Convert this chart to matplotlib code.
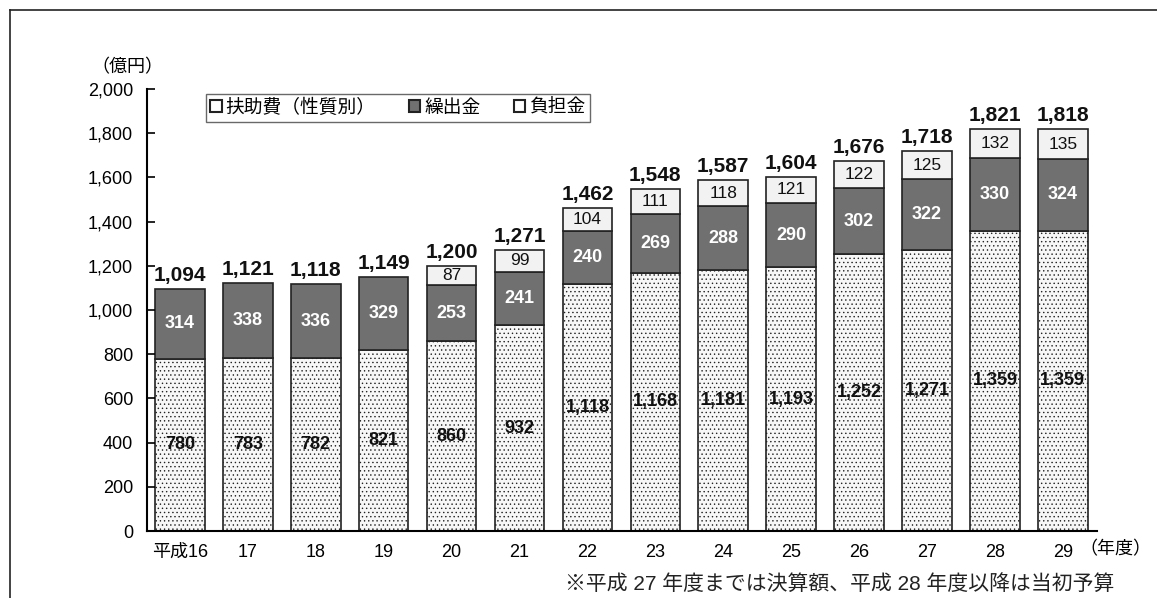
import matplotlib
matplotlib.use('Agg')
import matplotlib.pyplot as plt
from matplotlib.patches import Patch
from matplotlib.lines import Line2D
import numpy as np

plt.rcParams['font.family'] = ['Liberation Sans', 'Noto Sans CJK JP', 'DejaVu Sans']
plt.rcParams['hatch.color'] = '#cccccc'
plt.rcParams['hatch.linewidth'] = 0.5

# data (億円)
years = ['平成16', '17', '18', '19', '20', '21', '22', '23', '24', '25', '26', '27', '28', '29']
fujo = [780, 783, 782, 821, 860, 932, 1118, 1168, 1181, 1193, 1252, 1271, 1359, 1359]
kuridashi = [314, 338, 336, 329, 253, 241, 240, 269, 288, 290, 302, 322, 330, 324]
futan = [0, 0, 0, 0, 87, 99, 104, 111, 118, 121, 122, 125, 132, 135]
totals = [1094, 1121, 1118, 1149, 1200, 1271, 1462, 1548, 1587, 1604, 1676, 1718, 1821, 1818]

fig = plt.figure(figsize=(11.57, 5.98), dpi=100)
ax = fig.add_axes([0.127, 0.112, 0.821, 0.739])

x = np.arange(len(years))
w = 0.73
fujo = np.array(fujo)
kuridashi = np.array(kuridashi)
futan = np.array(futan)

ax.bar(x, fujo, w, color='#f7f7f7', edgecolor='#222222', linewidth=1.2, hatch='....')
ax.bar(x, kuridashi, w, bottom=fujo, color='#707070', edgecolor='#222222', linewidth=1.2)
has_top = futan > 0
ax.bar(x[has_top], futan[has_top], w, bottom=(fujo + kuridashi)[has_top],
       color='#f2f2f2', edgecolor='#222222', linewidth=1.2)

for i in range(len(years)):
    ax.text(x[i], fujo[i] / 2, f'{fujo[i]:,}', ha='center', va='center',
            fontsize=13, fontweight='bold', color='#111111')
    ax.text(x[i], fujo[i] + kuridashi[i] / 2, f'{kuridashi[i]:,}', ha='center', va='center',
            fontsize=13, fontweight='bold', color='white')
    if futan[i] > 0:
        ax.text(x[i], fujo[i] + kuridashi[i] + futan[i] / 2, f'{futan[i]:,}', ha='center',
                va='center', fontsize=12.5, color='#111111')
    ax.text(x[i], totals[i] + 18, f'{totals[i]:,}', ha='center', va='bottom',
            fontsize=15, fontweight='bold', color='#111111')

ax.set_xlim(-0.485, 13.5)
ax.set_ylim(0, 2000)
ax.set_yticks(range(0, 2001, 200))
ax.set_yticklabels([f'{v:,}' for v in range(0, 2001, 200)], fontsize=13)
ax.set_xticks(x)
ax.set_xticklabels(years, fontsize=13)
ax.tick_params(axis='y', direction='in', length=6, width=1.2, pad=10)
ax.tick_params(axis='x', length=0, pad=9)
for s in ['top', 'right']:
    ax.spines[s].set_visible(False)
ax.spines['left'].set_linewidth(1.5)
ax.spines['bottom'].set_linewidth(1.5)

ax.text(13.24, -0.043, '（年度）', transform=ax.get_xaxis_transform(), ha='left', va='center', fontsize=13)
fig.text(0.11, 0.887, '（億円）', ha='center', va='center', fontsize=13)

handles = [Patch(facecolor='white', edgecolor='#222222', linewidth=1.5),
           Patch(facecolor='#707070', edgecolor='#222222', linewidth=1.5),
           Patch(facecolor='white', edgecolor='#222222', linewidth=1.5)]
leg = ax.legend(handles, ['扶助費（性質別）', '繰出金', '負担金'], ncol=3, loc='upper left',
                bbox_to_anchor=(0.052, 1.01), fontsize=13.5, frameon=True, fancybox=False,
                handlelength=0.6, handleheight=0.6, handletextpad=0.2, columnspacing=1.8,
                borderpad=0.25, edgecolor='#444444')
leg.get_frame().set_linewidth(1.0)

fig.text(0.488, 0.006, '※平成 27 年度までは決算額、平成 28 年度以降は当初予算', ha='left', va='bottom',
         fontsize=15, color='#222222')

# outer frame
fig.add_artist(Line2D([0.0087, 0.0087], [0.0, 0.983], transform=fig.transFigure, color='#222222', lw=1.2))
fig.add_artist(Line2D([0.0087, 1.0], [0.983, 0.983], transform=fig.transFigure, color='#222222', lw=1.2))

fig.savefig('out.png', dpi=100)
